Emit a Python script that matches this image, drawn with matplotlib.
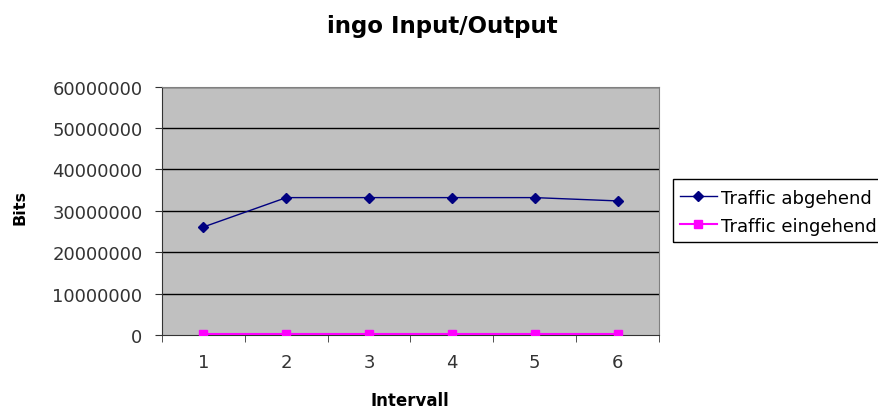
import numpy as np
from matplotlib import pyplot as plt
from matplotlib.patches import Rectangle

plt.rcParams['font.family'] = ['DejaVu Sans']

intervals = [1, 2, 3, 4, 5, 6]
traffic_out = [26100000, 33200000, 33200000, 33200000, 33200000, 32400000]
traffic_in = [150000, 150000, 150000, 150000, 150000, 150000]
yticks = [0, 10000000, 20000000, 30000000, 40000000, 50000000, 60000000]

W, H = 879, 410
fig = plt.figure(figsize=(W/100, H/100), dpi=100)
ax = fig.add_axes([162/W, (H-336)/H, (659-162)/W, (336-87.7)/H])
ax.set_facecolor('#C0C0C0')

for y in yticks[1:]:
  ax.axhline(y, color='black', lw=1.0, zorder=1)

ax.plot(intervals, traffic_out, color='#000080', lw=1.0, marker='D', ms=5,
        label='Traffic abgehend', zorder=3)
ax.plot(intervals, traffic_in, color='#FF00FF', lw=1.5, marker='s', ms=5.5,
        label='Traffic eingehend', zorder=3)

ax.set_xlim(0.5, 6.5)
ax.set_ylim(0, 60000000)
ax.set_yticks(yticks)
ax.set_yticklabels([str(v) for v in yticks])
ax.set_xticks(intervals)
ax.set_xticks(np.arange(0.5, 7.0, 1.0), minor=True)
ax.tick_params(axis='x', which='major', length=0, pad=13, labelsize=13, labelcolor='#333333')
ax.tick_params(axis='x', which='minor', length=5, direction='out', color='#333333')
ax.tick_params(axis='y', length=5, direction='out', labelsize=13, pad=9,
               color='#333333', labelcolor='#333333')

ax.spines['left'].set_color('#333333')
ax.spines['bottom'].set_color('#333333')
ax.spines['top'].set_color('#808080')
ax.spines['right'].set_color('#808080')

fig.text(409.5/W, (H-406)/H, 'Intervall', ha='center', va='baseline',
         fontsize=12, fontweight='bold')
fig.text(20/W, (H-207.5)/H, 'Bits', ha='center', va='center', rotation=90,
         fontsize=11.5, fontweight='bold')
fig.text(442/W, (H-33)/H, 'ingo Input/Output', ha='center', va='baseline',
         fontsize=16.5, fontweight='bold')

# legend box runs past the right edge like in the original
fig.patches.append(Rectangle((673/W, (H-243)/H), 230/W, 63/H, transform=fig.transFigure,
                             fill=False, ec='black', lw=1.0, zorder=5))
leg = fig.legend(loc='upper left', bbox_to_anchor=(670/W, (H-180)/H),
                 fontsize=13, frameon=False,
                 borderpad=0.53, handlelength=2.05, handletextpad=0.25,
                 labelspacing=0.56, borderaxespad=0)

plt.savefig('out.png', dpi=100)
